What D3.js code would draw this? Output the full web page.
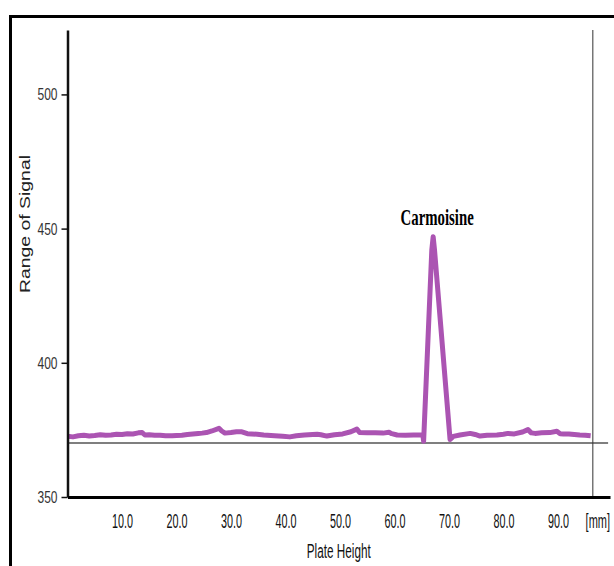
<!DOCTYPE html>
<html>
<head>
<meta charset="utf-8">
<script src="https://cdn.jsdelivr.net/npm/d3@7/dist/d3.min.js"></script>
<style>
  html, body { margin: 0; padding: 0; background: #fff; }
  svg { display: block; }
</style>
</head>
<body>
<svg id="chart" width="614" height="566"></svg>
<script>
// Densitogram trace: plate position (mm) and detector signal
const positionMm = [
  0, 1, 2, 3, 4, 5, 6, 7, 8, 9, 10, 11, 12, 13, 13.7, 14.2, 15, 16, 17, 18,
  19.2, 20, 21, 22, 23, 24, 24.7, 25.5, 26.5, 27.8, 28.3, 28.9, 30, 31, 32, 33,
  34.8, 36, 38, 39.5, 40.8, 42, 43.5, 45, 45.8, 46.5, 47.6, 49, 50.5, 52, 53.1,
  53.6, 55, 56.5, 57.9, 59, 59.5, 60.5, 62, 63.5, 64.7, 65.2, 65.35, 66.85, 67.1,
  67.35, 70.2, 70.8, 72, 73.9, 74.8, 75.7, 77, 78.8, 80, 80.8, 82, 83.5, 84.5,
  85.1, 85.8, 87, 88.5, 89.8, 90.4, 91, 92, 93, 94, 95, 96
];
const signal = [
  372.6, 372.4, 372.8, 373.0, 372.7, 372.9, 373.2, 373.0, 373.1, 373.4, 373.3,
  373.6, 373.5, 373.9, 374.0, 373.1, 373.2, 373.0, 373.0, 372.8, 372.8, 372.9,
  373.0, 373.3, 373.5, 373.7, 373.8, 374.0, 374.6, 375.6, 374.6, 373.8, 374.0,
  374.3, 374.3, 373.6, 373.4, 373.1, 372.8, 372.6, 372.4, 372.8, 373.1, 373.3,
  373.4, 373.2, 372.7, 373.2, 373.5, 374.3, 375.3, 374.0, 373.9, 373.9, 373.8,
  374.1, 373.6, 373.1, 373.0, 373.1, 373.1, 373.2, 370.8, 442, 447, 442, 371.4,
  372.6, 373.1, 373.7, 373.3, 372.7, 373.0, 373.1, 373.4, 373.7, 373.5, 374.2,
  375.1, 373.9, 373.7, 373.9, 374.0, 374.5, 373.6, 373.5, 373.5, 373.3, 373.1,
  373.0, 372.8
];

// Axis settings
const xDomain = [0, 99.55];
const yDomain = [350, 524];
const xTicks = [10, 20, 30, 40, 50, 60, 70, 80, 90];
const yTicks = [350, 400, 450, 500];
const xUnit = "[mm]";
const xTitle = "Plate Height";
const yTitle = "Range of Signal";

// Reference baseline and end-of-scan marker
const baselineLevel = 370.1;
const baselineEndMm = 99.2;
const scanEndMm = 96.4;

// Peak annotation
const peakName = "Carmoisine";
const peakMm = 67.1;
const peakValue = 447;

const svg = d3.select("#chart");

// Outer frame
svg.append("rect")
  .attr("x", 10.5).attr("y", 16.5)
  .attr("width", 700).attr("height", 700)
  .attr("fill", "none").attr("stroke", "#000").attr("stroke-width", 3);

const x = d3.scaleLinear().domain(xDomain).range([67.5, 610]);
const y = d3.scaleLinear().domain(yDomain).range([497, 30]);

// Reference baseline
svg.append("line")
  .attr("x1", x(0)).attr("x2", x(baselineEndMm))
  .attr("y1", y(baselineLevel)).attr("y2", y(baselineLevel))
  .attr("stroke", "#555").attr("stroke-width", 1.5);

// End-of-scan marker
svg.append("line")
  .attr("x1", x(scanEndMm)).attr("x2", x(scanEndMm))
  .attr("y1", y(yDomain[1])).attr("y2", y(yDomain[0]))
  .attr("stroke", "#333").attr("stroke-width", 1);

// Signal trace
const pts = positionMm.map((p, i) => [p, signal[i]]);
svg.append("path")
  .datum(pts)
  .attr("fill", "none")
  .attr("stroke", "#ab54b2")
  .attr("stroke-width", 5)
  .attr("stroke-linejoin", "round")
  .attr("d", d3.line().x(d => x(d[0])).y(d => y(d[1])));

// Y axis
const yAxis = svg.append("g")
  .attr("transform", `translate(${x(0)},0)`)
  .call(d3.axisLeft(y).tickValues(yTicks).tickSize(6).tickSizeOuter(0).tickFormat(d3.format("d")));
yAxis.select(".domain").attr("stroke", "#111").attr("stroke-width", 2.5);
yAxis.selectAll(".tick line").attr("stroke", "#111").attr("stroke-width", 1.5);
yAxis.selectAll(".tick text")
  .attr("x", 0).attr("dy", null)
  .attr("transform", "translate(-10,5.5) scale(1,1.3)")
  .attr("fill", "#333")
  .style("font-family", "'Liberation Sans', Arial, sans-serif")
  .style("font-size", "12px");

// X axis
const xAxis = svg.append("g")
  .attr("transform", `translate(0,${y(yDomain[0])})`)
  .call(d3.axisBottom(x).tickValues(xTicks).tickSize(0).tickSizeOuter(0).tickFormat(d3.format(".1f")));
xAxis.select(".domain").attr("stroke", "#000").attr("stroke-width", 3);
xAxis.selectAll(".tick text")
  .attr("y", 0).attr("dy", null)
  .attr("transform", "translate(0,31) scale(1,1.9)")
  .attr("fill", "#111")
  .style("font-family", "'Liberation Sans', Arial, sans-serif")
  .style("font-size", "10.8px");

// Unit label at the end of the x axis
svg.append("text")
  .attr("transform", `translate(${x(xDomain[1])},${y(yDomain[0]) + 31}) scale(1,1.9)`)
  .attr("text-anchor", "end")
  .attr("fill", "#111")
  .style("font-family", "'Liberation Sans', Arial, sans-serif")
  .style("font-size", "11px")
  .text(xUnit);

// Axis titles
svg.append("text")
  .attr("transform", `translate(${(x.range()[0] + x.range()[1]) / 2},558.3) scale(1,1.78)`)
  .attr("text-anchor", "middle")
  .attr("fill", "#111")
  .style("font-family", "'Liberation Sans', Arial, sans-serif")
  .style("font-size", "11.75px")
  .text(xTitle);

svg.append("text")
  .attr("transform", "translate(29.5,224) rotate(-90) scale(1.385,1)")
  .attr("text-anchor", "middle")
  .attr("fill", "#222")
  .style("font-family", "'Liberation Sans', Arial, sans-serif")
  .style("font-size", "14px")
  .text(yTitle);

// Peak label
svg.append("text")
  .attr("transform", `translate(${x(peakMm) + 4},${y(peakValue) - 12}) scale(1,1.5)`)
  .attr("text-anchor", "middle")
  .attr("fill", "#000")
  .style("font-family", "'Liberation Serif', 'Times New Roman', serif")
  .style("font-weight", "bold")
  .style("font-size", "14.8px")
  .text(peakName);
</script>
</body>
</html>
